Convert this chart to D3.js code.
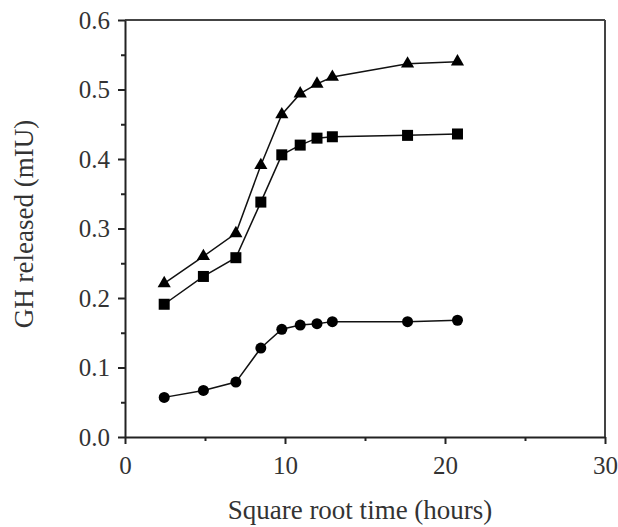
<!DOCTYPE html>
<meta charset="utf-8">
<head>
    <title>GH released</title>
    <script type="text/javascript" src="https://d3js.org/d3.v7.min.js"></script>
    <style>
        body { margin: 0; background: #fff; }
        text { font-family: "Liberation Serif", "Times New Roman", serif; fill: #333; }
        .tick text { font-size: 25px; }
        .domain { stroke: #222; stroke-width: 2px; }
        .tick line { stroke: #222; stroke-width: 2px; }
    </style>
</head>
<body>
<div id="chart"></div>
<script>
    // square root of sampling time (hours)
    var sqrtTime = [2.45, 4.9, 6.93, 8.49, 9.8, 10.95, 12.0, 12.96, 17.66, 20.78];

    // GH released (mIU) for the three series
    var triangles = [0.221, 0.26, 0.293, 0.391, 0.464, 0.494, 0.508, 0.518, 0.537, 0.540];
    var squares   = [0.191, 0.231, 0.258, 0.338, 0.406, 0.420, 0.430, 0.432, 0.434, 0.436];
    var circles   = [0.057, 0.067, 0.079, 0.128, 0.155, 0.161, 0.163, 0.166, 0.166, 0.168];

    var xTicks = [0, 10, 20, 30];
    var yTicks = [0.0, 0.1, 0.2, 0.3, 0.4, 0.5, 0.6];

    var width = 618, height = 527;
    var margin = { top: 20, right: 13, bottom: 90, left: 125 };

    var svg = d3.select("#chart").append("svg")
        .attr("width", width)
        .attr("height", height);

    var x = d3.scaleLinear().domain([0, 30]).range([margin.left, width - margin.right]);
    var y = d3.scaleLinear().domain([0, 0.6]).range([height - margin.bottom, margin.top]);

    // frame top and right
    svg.append("line")
        .attr("x1", x(0)).attr("x2", x(30))
        .attr("y1", y(0.6)).attr("y2", y(0.6))
        .attr("stroke", "#444").attr("stroke-width", 2);
    svg.append("line")
        .attr("x1", x(30)).attr("x2", x(30))
        .attr("y1", y(0.6)).attr("y2", y(0))
        .attr("stroke", "#444").attr("stroke-width", 2);

    // minor ticks
    svg.append("g")
        .attr("transform", "translate(0," + y(0) + ")")
        .call(d3.axisBottom(x).tickValues([5, 15, 25]).tickSize(4).tickFormat(""))
        .call(g => g.select(".domain").remove());
    svg.append("g")
        .attr("transform", "translate(" + x(0) + ",0)")
        .call(d3.axisLeft(y).tickValues([0.05, 0.15, 0.25, 0.35, 0.45, 0.55]).tickSize(4).tickFormat(""))
        .call(g => g.select(".domain").remove());

    // main axes
    svg.append("g")
        .attr("transform", "translate(0," + y(0) + ")")
        .call(d3.axisBottom(x).tickValues(xTicks).tickSize(7).tickSizeOuter(0).tickPadding(12).tickFormat(d3.format("d")));
    svg.append("g")
        .attr("transform", "translate(" + x(0) + ",0)")
        .call(d3.axisLeft(y).tickValues(yTicks).tickSize(7).tickSizeOuter(0).tickPadding(8).tickFormat(d3.format(".1f")));

    svg.selectAll(".tick text").attr("fill", "#333");

    // axis titles
    svg.append("text")
        .attr("x", (x(0) + x(30)) / 2 - 5)
        .attr("y", 519)
        .attr("text-anchor", "middle")
        .style("font-size", "27px")
        .text("Square root time (hours)");
    svg.append("text")
        .attr("transform", "translate(33," + 224 + ") rotate(-90)")
        .attr("text-anchor", "middle")
        .style("font-size", "27px")
        .text("GH released (mIU)");

    // lines
    var line = d3.line()
        .x((d, i) => x(sqrtTime[i]))
        .y(d => y(d));

    [triangles, squares, circles].forEach(function (s) {
        svg.append("path")
            .datum(s)
            .attr("d", line)
            .attr("fill", "none")
            .attr("stroke", "#111")
            .attr("stroke-width", 1.5);
    });

    // markers
    svg.append("g").selectAll("path")
        .data(triangles)
        .enter().append("path")
        .attr("transform", (d, i) => "translate(" + x(sqrtTime[i]) + "," + y(d) + ")")
        .attr("d", d3.symbol().type(d3.symbolTriangle).size(75))
        .attr("fill", "#000");

    svg.append("g").selectAll("rect")
        .data(squares)
        .enter().append("rect")
        .attr("x", (d, i) => x(sqrtTime[i]) - 5.5)
        .attr("y", d => y(d) - 5.5)
        .attr("width", 11)
        .attr("height", 11)
        .attr("fill", "#000");

    svg.append("g").selectAll("circle")
        .data(circles)
        .enter().append("circle")
        .attr("cx", (d, i) => x(sqrtTime[i]))
        .attr("cy", d => y(d))
        .attr("r", 5.5)
        .attr("fill", "#000");
</script>
</body>
